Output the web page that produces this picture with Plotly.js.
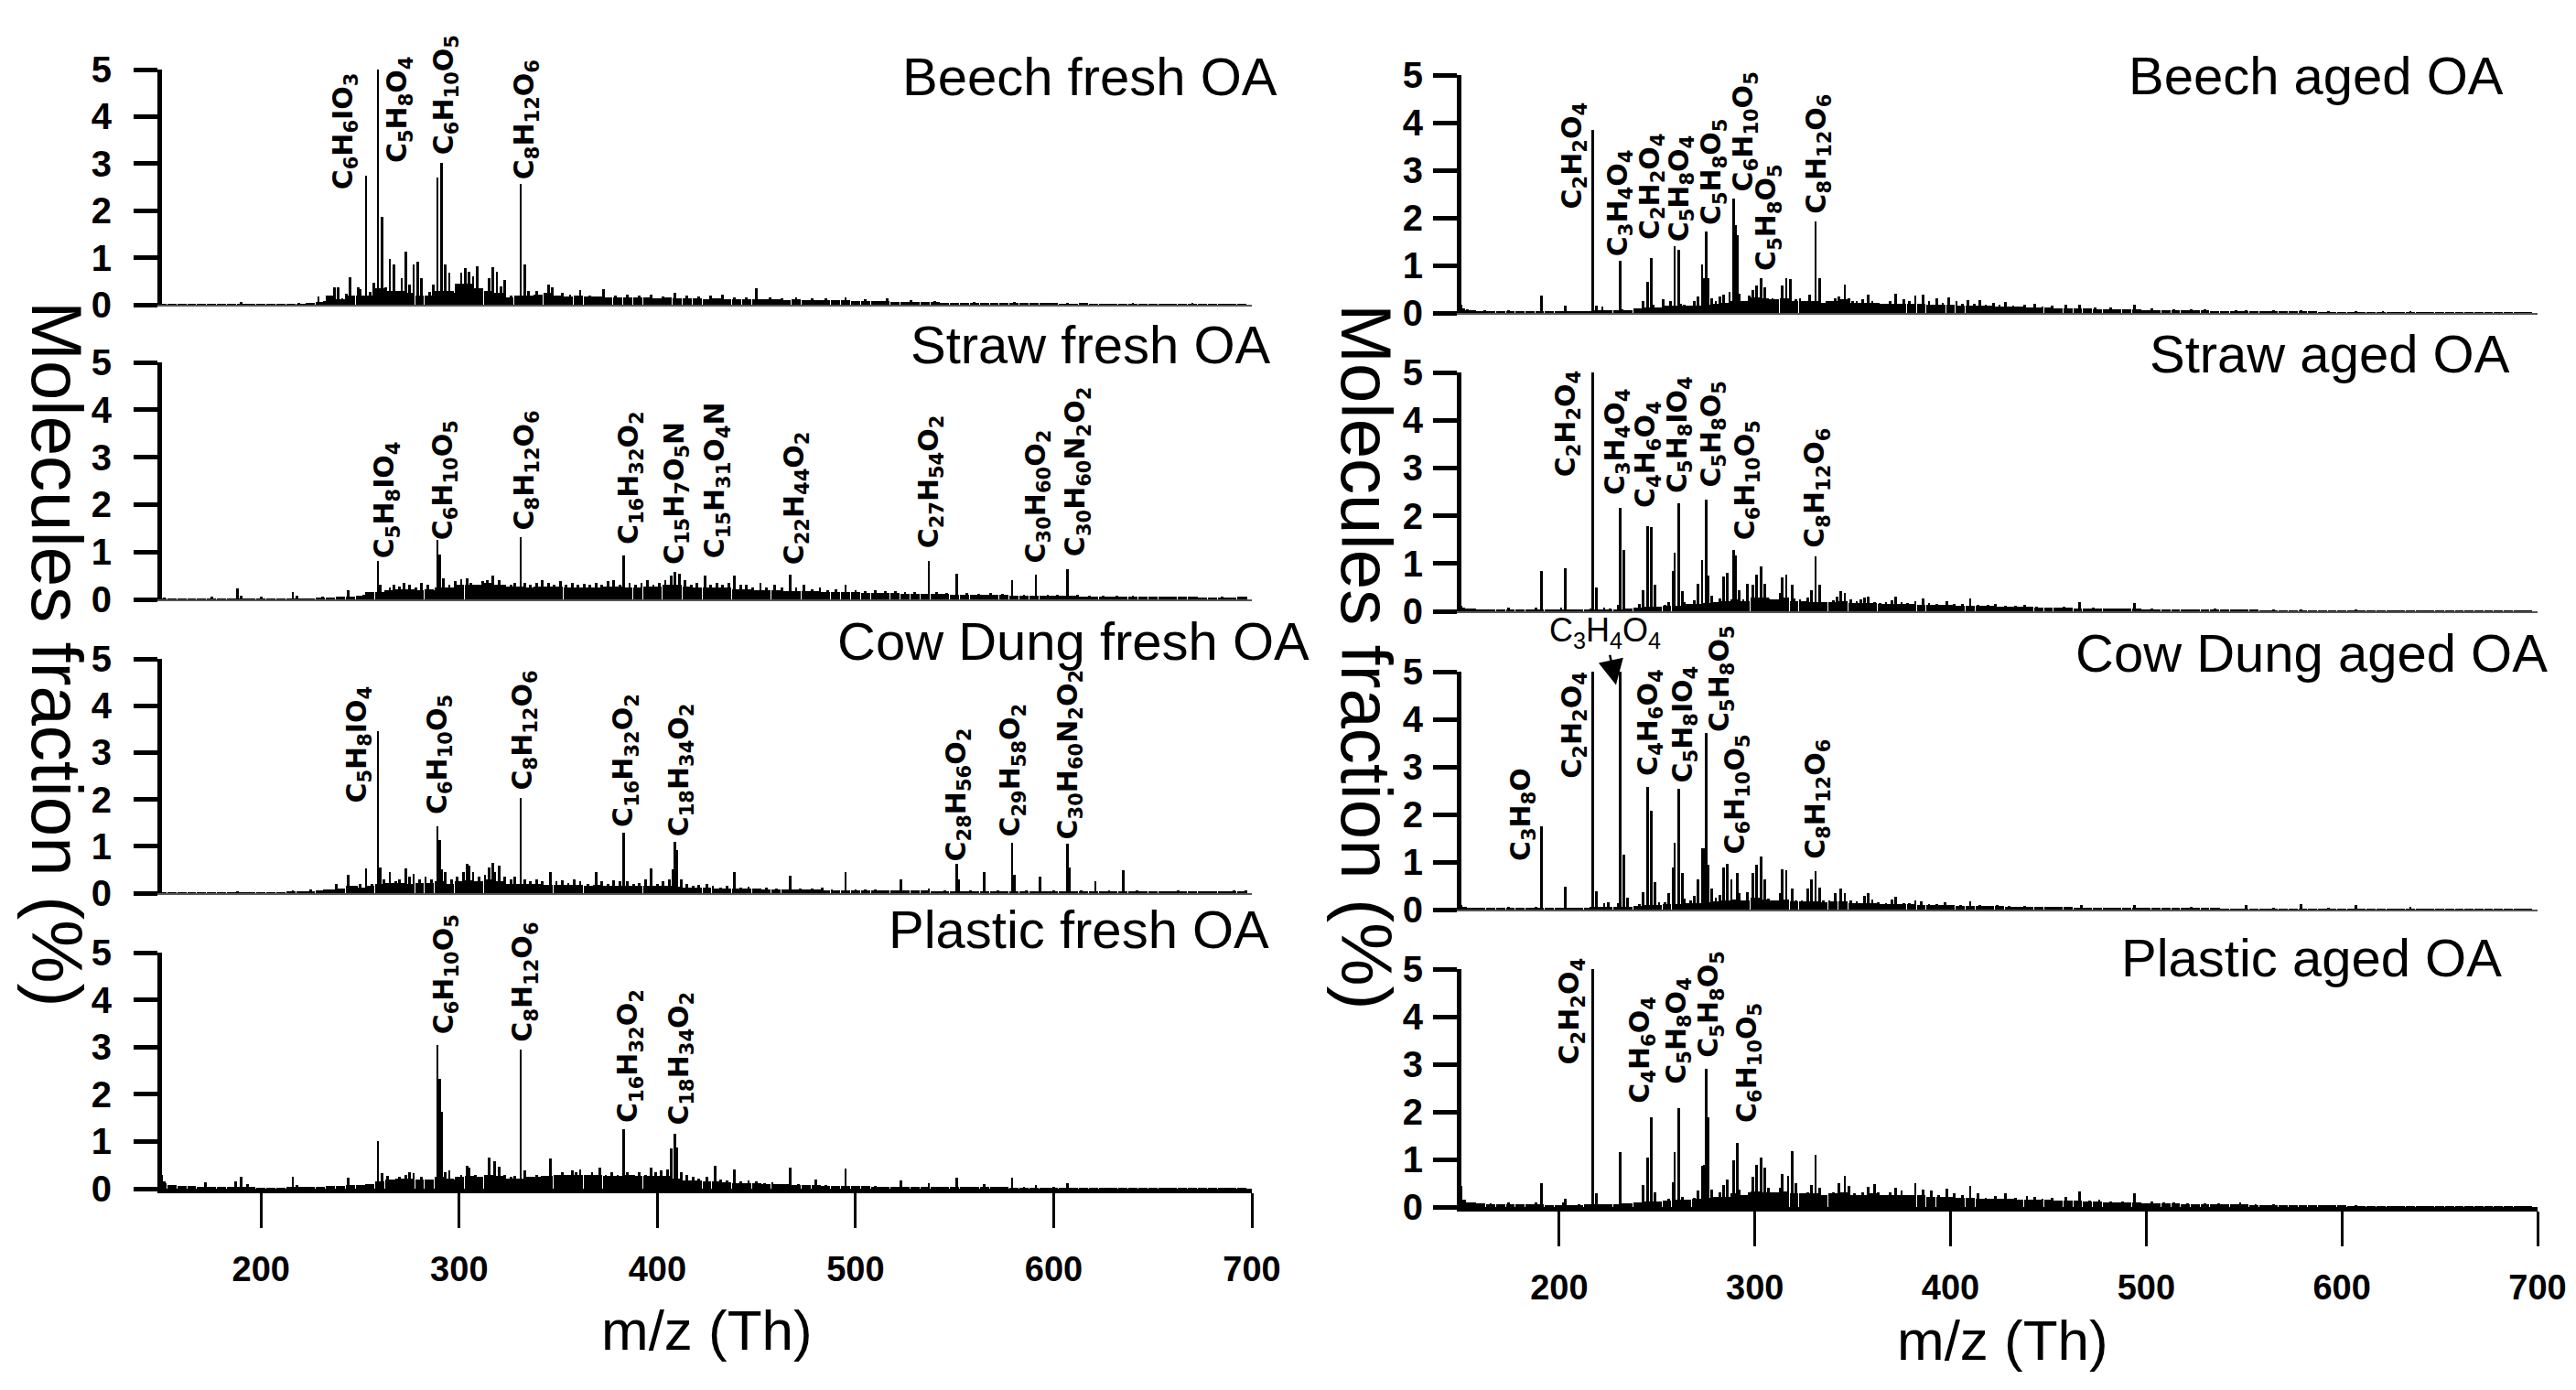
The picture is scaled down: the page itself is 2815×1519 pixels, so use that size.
<!DOCTYPE html>
<html>
<head>
<meta charset="utf-8">
<script src="https://cdn.plot.ly/plotly-3.0.1.min.js"></script>
<style>
html, body { margin: 0; padding: 0; background: #fff; }
#chart { width: 2815px; height: 1519px; }
</style>
</head>
<body>
<div id="chart"></div>
<script>
// low continuous background of each spectrum, one value per 5 Th
const baseMz = [150,155,160,165,170,175,180,185,190,195,200,205,210,215,220,225,230,235,240,245,
  250,255,260,265,270,275,280,285,290,295,300,305,310,315,320,325,330,335,340,345,
  350,355,360,365,370,375,380,385,390,395,400,405,410,415,420,425,430,435,440,445,
  450,455,460,465,470,475,480,485,490,495,500,505,510,515,520,525,530,535,540,545,
  550,555,560,565,570,575,580,585,590,595,600,605,610,615,620,625,630,635,640,645,
  650,655,660,665,670,675,680,685,690,695];

const beechFreshBase = [0.01,0.01,0.01,0.01,0.01,0.01,0.01,0.01,0.02,0.01,
  0.01,0.01,0.01,0.02,0.02,0.03,0.06,0.2,0.12,0.2,
  0.2,0.2,0.35,0.3,0.3,0.25,0.2,0.2,0.3,0.3,
  0.45,0.45,0.35,0.3,0.25,0.15,0.2,0.2,0.22,0.25,
  0.2,0.18,0.2,0.17,0.18,0.16,0.15,0.16,0.15,0.16,
  0.14,0.15,0.13,0.14,0.14,0.12,0.13,0.12,0.12,0.12,
  0.12,0.11,0.11,0.1,0.11,0.1,0.1,0.09,0.09,0.09,
  0.08,0.08,0.07,0.07,0.06,0.06,0.05,0.05,0.05,0.04,
  0.04,0.04,0.04,0.03,0.03,0.03,0.03,0.03,0.03,0.03,
  0.03,0.02,0.02,0.03,0.02,0.02,0.02,0.02,0.02,0.02,
  0.02,0.02,0.01,0.02,0.01,0.01,0.02,0.01,0.01,0.01];
const strawFreshBase = [0.02,0.01,0.01,0.01,0.01,0.01,0.01,0.01,0.01,0.01,
  0.01,0.01,0.01,0.02,0.02,0.02,0.03,0.04,0.05,0.06,
  0.08,0.15,0.15,0.2,0.22,0.22,0.2,0.22,0.25,0.25,
  0.3,0.3,0.3,0.35,0.3,0.28,0.28,0.25,0.28,0.28,
  0.28,0.25,0.25,0.25,0.25,0.28,0.28,0.25,0.25,0.28,
  0.28,0.3,0.3,0.28,0.25,0.25,0.25,0.25,0.22,0.22,
  0.2,0.2,0.2,0.18,0.18,0.18,0.17,0.16,0.16,0.15,
  0.15,0.14,0.14,0.13,0.13,0.12,0.12,0.12,0.11,0.11,
  0.1,0.1,0.1,0.09,0.09,0.09,0.08,0.08,0.08,0.08,
  0.07,0.07,0.07,0.06,0.06,0.06,0.06,0.06,0.05,0.05,
  0.05,0.05,0.05,0.05,0.05,0.04,0.04,0.04,0.04,0.05];
const cowFreshBase = [0.01,0.01,0.01,0.01,0.01,0.01,0.01,0.02,0.01,0.01,
  0.01,0.01,0.01,0.03,0.04,0.04,0.05,0.08,0.1,0.15,
  0.12,0.15,0.2,0.22,0.22,0.2,0.22,0.22,0.25,0.2,
  0.25,0.28,0.25,0.3,0.25,0.2,0.2,0.2,0.2,0.18,
  0.18,0.17,0.18,0.16,0.17,0.15,0.15,0.16,0.15,0.16,
  0.15,0.15,0.13,0.12,0.12,0.11,0.1,0.1,0.09,0.09,
  0.09,0.08,0.08,0.08,0.07,0.07,0.07,0.06,0.06,0.06,
  0.06,0.06,0.05,0.05,0.05,0.05,0.05,0.05,0.04,0.04,
  0.04,0.04,0.04,0.04,0.04,0.04,0.04,0.04,0.04,0.04,
  0.04,0.04,0.04,0.03,0.03,0.03,0.03,0.03,0.03,0.03,
  0.03,0.03,0.03,0.03,0.03,0.03,0.03,0.03,0.03,0.04];
const plasticFreshBase = [0.12,0.08,0.06,0.05,0.04,0.04,0.03,0.03,0.03,0.03,
  0.02,0.02,0.02,0.03,0.03,0.03,0.04,0.05,0.06,0.07,
  0.08,0.1,0.15,0.2,0.22,0.22,0.2,0.2,0.25,0.22,
  0.25,0.28,0.25,0.3,0.28,0.22,0.22,0.25,0.25,0.28,
  0.3,0.3,0.3,0.3,0.3,0.28,0.28,0.3,0.28,0.28,
  0.28,0.28,0.22,0.18,0.18,0.15,0.15,0.14,0.12,0.12,
  0.11,0.1,0.1,0.09,0.08,0.07,0.07,0.06,0.06,0.05,
  0.05,0.05,0.04,0.04,0.04,0.04,0.04,0.03,0.03,0.03,
  0.03,0.03,0.03,0.03,0.03,0.03,0.02,0.02,0.02,0.02,
  0.02,0.02,0.02,0.02,0.02,0.01,0.01,0.01,0.01,0.01,
  0.01,0.01,0.01,0.01,0.01,0.01,0.01,0.01,0.01,0.01];
const beechAgedBase = [0.06,0.05,0.04,0.04,0.04,0.04,0.03,0.03,0.04,0.03,
  0.04,0.03,0.03,0.04,0.06,0.05,0.06,0.06,0.1,0.12,
  0.12,0.15,0.15,0.15,0.15,0.18,0.2,0.22,0.25,0.25,
  0.32,0.3,0.28,0.3,0.25,0.25,0.25,0.22,0.25,0.28,
  0.22,0.22,0.22,0.2,0.2,0.2,0.2,0.2,0.18,0.18,
  0.17,0.16,0.16,0.15,0.15,0.14,0.14,0.13,0.12,0.12,
  0.11,0.1,0.1,0.09,0.09,0.08,0.08,0.08,0.07,0.07,
  0.06,0.06,0.06,0.05,0.05,0.05,0.05,0.04,0.04,0.04,
  0.04,0.03,0.03,0.03,0.03,0.03,0.03,0.03,0.02,0.02,
  0.02,0.02,0.02,0.02,0.02,0.02,0.02,0.02,0.01,0.01,
  0.01,0.01,0.01,0.01,0.01,0.01,0.01,0.01,0.01,0.01];
const strawAgedBase = [0.06,0.05,0.04,0.04,0.04,0.04,0.03,0.03,0.03,0.03,
  0.03,0.03,0.03,0.03,0.04,0.04,0.04,0.05,0.08,0.1,
  0.1,0.12,0.12,0.15,0.15,0.18,0.2,0.22,0.25,0.22,
  0.28,0.28,0.25,0.28,0.22,0.22,0.2,0.2,0.2,0.22,
  0.18,0.18,0.18,0.16,0.16,0.15,0.15,0.14,0.14,0.13,
  0.13,0.12,0.12,0.11,0.11,0.1,0.1,0.09,0.09,0.08,
  0.08,0.07,0.07,0.06,0.06,0.06,0.05,0.05,0.05,0.05,
  0.04,0.04,0.04,0.04,0.03,0.03,0.03,0.03,0.03,0.03,
  0.03,0.03,0.02,0.02,0.02,0.02,0.02,0.02,0.02,0.02,
  0.02,0.02,0.02,0.02,0.02,0.02,0.02,0.02,0.02,0.02,
  0.02,0.02,0.02,0.02,0.02,0.02,0.02,0.02,0.02,0.02];
const cowAgedBase = [0.05,0.03,0.03,0.03,0.03,0.03,0.03,0.03,0.03,0.03,
  0.03,0.03,0.03,0.03,0.05,0.05,0.05,0.05,0.08,0.1,
  0.1,0.12,0.12,0.14,0.14,0.16,0.18,0.2,0.22,0.2,
  0.25,0.22,0.2,0.22,0.18,0.18,0.18,0.16,0.17,0.17,
  0.14,0.14,0.14,0.12,0.12,0.11,0.11,0.1,0.1,0.09,
  0.09,0.08,0.08,0.07,0.07,0.07,0.06,0.06,0.06,0.05,
  0.05,0.05,0.05,0.04,0.04,0.04,0.04,0.04,0.04,0.03,
  0.03,0.03,0.03,0.03,0.03,0.03,0.03,0.03,0.02,0.02,
  0.02,0.02,0.02,0.02,0.02,0.02,0.02,0.02,0.02,0.02,
  0.02,0.02,0.02,0.02,0.02,0.02,0.02,0.02,0.02,0.02,
  0.02,0.02,0.02,0.02,0.01,0.01,0.01,0.01,0.01,0.01];
const plasticAgedBase = [0.15,0.1,0.08,0.06,0.06,0.05,0.05,0.05,0.05,0.04,
  0.04,0.04,0.04,0.05,0.06,0.06,0.06,0.08,0.1,0.12,
  0.12,0.14,0.15,0.15,0.18,0.2,0.22,0.22,0.28,0.25,
  0.32,0.3,0.3,0.32,0.28,0.28,0.28,0.25,0.28,0.3,
  0.25,0.25,0.28,0.25,0.25,0.25,0.25,0.25,0.22,0.22,
  0.22,0.2,0.2,0.18,0.18,0.18,0.17,0.16,0.16,0.15,
  0.15,0.14,0.14,0.13,0.12,0.11,0.1,0.1,0.1,0.09,
  0.08,0.08,0.07,0.07,0.06,0.06,0.06,0.05,0.05,0.05,
  0.05,0.04,0.04,0.04,0.04,0.03,0.03,0.03,0.03,0.03,
  0.03,0.02,0.02,0.02,0.02,0.02,0.02,0.01,0.01,0.01,
  0.01,0.01,0.01,0.01,0.01,0.01,0.01,0.01,0.01,0.01];

// individual unit-mass peaks: [m/z, molecules fraction %]
const beechFreshPeaks = [[190,0.05],[219,0.04],[229,0.17],[232,0.08],[237,0.37],[239,0.37],[241,0.14],[243,0.24],
  [245,0.59],[249,0.37],[250,0.34],[253,2.74],[255,0.27],[257,0.46],[259,5.0],[261,1.86],[263,0.37],[265,0.98],
  [267,0.85],[269,0.17],[271,0.56],[273,1.12],[275,0.43],[277,0.86],[279,0.92],[281,0.57],[285,0.27],[287,0.43],
  [289,2.71],[291,3.01],[293,0.86],[295,0.69],[298,0.25],[301,0.68],[303,0.77],[305,0.71],[307,0.61],[309,0.81],
  [311,0.25],[315,0.56],[317,0.79],[319,0.71],[321,0.39],[323,0.52],[326,0.2],[331,2.56],[333,0.86],[335,0.3],
  [339,0.3],[345,0.43],[347,0.37],[352,0.25],[356,0.22],[361,0.32],[366,0.2],[373,0.33],[379,0.2],[385,0.22],
  [391,0.2],[397,0.22],[403,0.18],[409,0.26],[415,0.2],[421,0.18],[427,0.19],[433,0.22],[439,0.16],[445,0.15],
  [450,0.35],[457,0.16],[463,0.14],[470,0.16],[478,0.14],[485,0.13],[495,0.16],[505,0.12],[516,0.13],[528,0.1],
  [540,0.08],[560,0.06],[580,0.05],[607,0.04],[640,0.04],[670,0.03]];
const strawFreshPeaks = [[151,0.03],[166,0.02],[175,0.05],[188,0.24],[190,0.08],[200,0.05],[216,0.16],[218,0.08],
  [231,0.05],[244,0.19],[252,0.1],[259,0.82],[260,0.3],[263,0.2],[265,0.25],[267,0.3],[270,0.28],[272,0.35],
  [275,0.3],[278,0.25],[281,0.35],[284,0.3],[287,0.2],[289,1.25],[290,0.95],[292,0.45],[295,0.3],[298,0.38],
  [301,0.42],[304,0.45],[306,0.35],[309,0.3],[312,0.38],[314,0.4],[317,0.5],[320,0.4],[323,0.3],[326,0.3],
  [328,0.35],[331,1.32],[333,0.35],[336,0.3],[339,0.35],[342,0.4],[345,0.35],[348,0.3],[351,0.38],[354,0.3],
  [357,0.35],[360,0.3],[363,0.32],[366,0.3],[369,0.35],[372,0.3],[375,0.38],[378,0.4],[381,0.3],[383,0.92],
  [386,0.35],[389,0.3],[392,0.35],[395,0.4],[398,0.3],[401,0.35],[404,0.4],[407,0.5],[409,0.57],[411,0.55],
  [414,0.4],[417,0.3],[420,0.35],[424,0.5],[427,0.3],[430,0.35],[433,0.3],[436,0.35],[439,0.5],[442,0.3],
  [445,0.3],[448,0.25],[452,0.35],[455,0.25],[459,0.3],[463,0.25],[467,0.52],[470,0.25],[474,0.3],[478,0.22],
  [482,0.25],[486,0.2],[490,0.22],[495,0.3],[500,0.2],[505,0.18],[510,0.2],[515,0.17],[520,0.18],[525,0.16],
  [530,0.15],[537,0.82],[541,0.15],[546,0.14],[551,0.55],[556,0.13],[562,0.12],[568,0.14],[574,0.12],[579,0.41],
  [585,0.1],[591,0.53],[597,0.1],[602,0.1],[607,0.64],[612,0.09],[618,0.08],[625,0.08],[632,0.07],[640,0.07],
  [650,0.06],[660,0.06],[672,0.05],[685,0.05],[697,0.06]];
const cowFreshPeaks = [[150,0.02],[188,0.03],[216,0.06],[225,0.08],[232,0.08],[238,0.19],[241,0.1],[244,0.4],
  [248,0.15],[250,0.2],[253,0.52],[256,0.2],[259,3.45],[260,0.55],[262,0.3],[265,0.45],[268,0.25],[270,0.3],
  [273,0.53],[275,0.35],[277,0.42],[280,0.3],[283,0.35],[286,0.3],[289,1.42],[290,1.13],[291,0.5],[293,0.45],
  [296,0.3],[299,0.35],[302,0.45],[304,0.62],[305,0.58],[307,0.45],[310,0.35],[313,0.4],[315,0.55],[317,0.65],
  [318,0.45],[320,0.58],[323,0.35],[326,0.3],[328,0.35],[331,2.04],[333,0.3],[336,0.25],[339,0.3],[342,0.25],
  [346,0.45],[349,0.25],[352,0.28],[355,0.22],[358,0.3],[361,0.25],[365,0.2],[369,0.45],[372,0.25],[375,0.2],
  [378,0.28],[381,0.25],[383,1.28],[385,0.25],[388,0.2],[391,0.22],[394,0.3],[397,0.53],[400,0.2],[403,0.25],
  [406,0.3],[408,0.5],[409,1.09],[410,0.92],[412,0.3],[415,0.2],[418,0.15],[421,0.18],[425,0.2],[428,0.15],
  [432,0.12],[435,0.15],[439,0.45],[442,0.12],[446,0.14],[450,0.1],[455,0.12],[460,0.1],[467,0.38],[472,0.1],
  [478,0.09],[483,0.12],[488,0.08],[495,0.44],[500,0.08],[505,0.07],[510,0.08],[516,0.06],[523,0.29],[530,0.06],
  [537,0.1],[545,0.06],[551,0.63],[552,0.3],[558,0.06],[565,0.45],[572,0.06],[579,1.07],[580,0.4],[586,0.05],
  [593,0.36],[600,0.06],[607,1.05],[608,0.55],[614,0.06],[621,0.26],[628,0.05],[635,0.49],[642,0.05],[650,0.04],
  [663,0.05],[677,0.04],[691,0.06],[697,0.05]];
const plasticFreshPeaks = [[150,0.3],[151,0.15],[172,0.13],[187,0.15],[190,0.25],[193,0.1],[216,0.25],[218,0.08],
  [235,0.06],[244,0.23],[252,0.06],[259,1.0],[261,0.33],[264,0.28],[267,0.2],[270,0.25],[273,0.29],[275,0.35],
  [277,0.32],[281,0.25],[285,0.2],[289,3.04],[290,2.33],[291,1.63],[293,0.35],[295,0.39],[298,0.2],[301,0.3],
  [304,0.49],[305,0.45],[308,0.3],[311,0.25],[313,0.3],[315,0.65],[318,0.59],[320,0.46],[323,0.3],[326,0.25],
  [328,0.28],[331,2.95],[333,0.39],[336,0.25],[339,0.3],[342,0.28],[346,0.64],[349,0.3],[352,0.35],[355,0.3],
  [357,0.39],[359,0.35],[361,0.41],[364,0.3],[367,0.35],[371,0.44],[374,0.3],[377,0.35],[380,0.3],[383,1.26],
  [385,0.35],[388,0.3],[391,0.35],[394,0.3],[397,0.45],[399,0.35],[402,0.38],[405,0.4],[407,0.86],[409,1.16],
  [410,0.88],[412,0.35],[415,0.3],[418,0.25],[421,0.22],[425,0.25],[429,0.49],[432,0.2],[435,0.18],[439,0.4],
  [442,0.15],[446,0.18],[450,0.15],[454,0.12],[458,0.14],[462,0.1],[467,0.45],[471,0.1],[475,0.08],[480,0.2],
  [485,0.07],[490,0.06],[495,0.42],[500,0.06],[510,0.05],[523,0.18],[530,0.04],[537,0.11],[545,0.04],[551,0.24],
  [558,0.03],[565,0.1],[572,0.03],[579,0.23],[585,0.03],[591,0.08],[600,0.03],[607,0.11],[620,0.02],[640,0.02],
  [660,0.02],[680,0.02]];
const beechAgedPeaks = [[150,0.18],[151,0.1],[153,0.08],[162,0.05],[174,0.065],[191,0.36],[196,0.04],[203,0.15],
  [212,0.04],[217,3.84],[219,0.15],[222,0.13],[226,0.05],[231,1.1],[232,0.08],[236,0.05],[240,0.1],[243,0.25],
  [245,0.65],[247,1.15],[248,0.18],[251,0.1],[253,0.28],[257,0.25],[259,1.4],[261,1.32],[262,0.2],[264,0.18],
  [267,0.15],[269,0.25],[271,0.35],[273,1.01],[274,0.73],[275,1.71],[276,0.73],[278,0.3],[280,0.25],[282,0.34],
  [284,0.39],[287,0.44],[289,2.41],[290,1.84],[291,1.63],[292,0.4],[294,0.25],[297,0.36],[299,0.49],[301,0.57],
  [303,0.73],[305,0.54],[307,0.28],[309,0.3],[311,0.25],[314,0.57],[316,0.73],[318,0.71],[321,0.28],[323,0.3],
  [326,0.25],[328,0.38],[331,1.92],[333,0.73],[335,0.21],[337,0.25],[339,0.21],[341,0.3],[343,0.34],[346,0.6],
  [348,0.31],[350,0.25],[352,0.25],[355,0.28],[358,0.38],[360,0.25],[363,0.22],[366,0.18],[369,0.25],[372,0.41],
  [376,0.28],[379,0.25],[382,0.36],[386,0.38],[389,0.25],[393,0.3],[396,0.22],[399,0.32],[403,0.25],[406,0.2],
  [409,0.26],[412,0.2],[415,0.26],[418,0.18],[422,0.21],[425,0.17],[428,0.23],[432,0.15],[438,0.18],[443,0.19],
  [447,0.14],[452,0.15],[459,0.17],[466,0.18],[474,0.12],[482,0.12],[494,0.18],[503,0.1],[514,0.08],[523,0.08],
  [530,0.07],[546,0.065],[551,0.06],[565,0.05],[579,0.05],[593,0.04],[607,0.04],[621,0.03],[635,0.03],[650,0.02],
  [665,0.02],[680,0.02],[695,0.02]];
const strawAgedPeaks = [[150,0.12],[151,0.08],[153,0.05],[163,0.04],[174,0.08],[188,0.08],[191,0.84],[198,0.04],
  [201,0.08],[203,0.9],[210,0.04],[216,0.05],[217,5.0],[219,0.5],[223,0.08],[226,0.05],[230,0.13],[231,2.16],
  [233,1.28],[236,0.06],[241,0.16],[243,0.44],[245,1.79],[247,1.77],[249,0.55],[251,0.1],[254,0.13],[256,0.19],
  [258,0.84],[259,1.23],[261,2.26],[263,0.42],[264,0.19],[267,0.15],[269,0.23],[271,0.57],[273,1.08],[275,2.33],
  [276,0.74],[278,0.32],[280,0.2],[282,0.26],[284,0.72],[286,0.81],[289,1.29],[290,1.17],[292,0.44],[294,0.25],
  [296,0.57],[299,0.55],[301,0.77],[303,0.94],[305,0.57],[307,0.26],[310,0.25],[313,0.39],[314,0.71],[316,0.76],
  [319,0.55],[320,0.26],[323,0.25],[327,0.29],[329,0.45],[331,1.14],[333,0.55],[335,0.19],[338,0.2],[340,0.23],
  [342,0.3],[344,0.42],[346,0.39],[349,0.25],[352,0.22],[354,0.25],[356,0.29],[358,0.3],[361,0.2],[364,0.18],
  [367,0.2],[370,0.23],[372,0.3],[375,0.2],[378,0.18],[382,0.21],[386,0.26],[389,0.18],[393,0.16],[398,0.21],
  [402,0.16],[406,0.15],[410,0.26],[414,0.14],[419,0.13],[423,0.16],[428,0.12],[433,0.12],[438,0.14],[444,0.1],
  [451,0.08],[458,0.09],[466,0.19],[473,0.07],[480,0.065],[487,0.06],[494,0.17],[503,0.05],[512,0.04],[522,0.03],
  [535,0.05],[551,0.03],[565,0.03],[579,0.03],[607,0.03],[640,0.02],[670,0.02]];
const cowAgedPeaks = [[150,0.1],[152,0.05],[160,0.04],[174,0.05],[188,0.05],[191,1.75],[203,0.49],[210,0.04],
  [216,0.05],[217,5.0],[219,0.39],[223,0.13],[225,0.15],[230,0.13],[231,5.0],[233,1.15],[235,0.25],[241,0.12],
  [243,0.37],[245,2.58],[247,2.08],[249,0.57],[251,0.15],[254,0.15],[256,0.34],[258,0.89],[259,1.4],[261,2.53],
  [263,0.76],[264,0.24],[267,0.2],[269,0.28],[271,0.63],[273,1.28],[274,1.28],[275,3.72],[276,0.95],[278,0.44],
  [280,0.25],[282,0.31],[284,0.89],[286,0.97],[288,0.63],[291,0.77],[292,0.34],[294,0.2],[296,0.37],[299,0.76],
  [301,0.95],[303,1.11],[305,0.63],[307,0.24],[310,0.2],[313,0.34],[314,0.84],[316,0.82],[319,0.44],[321,0.2],
  [324,0.2],[327,0.44],[329,0.63],[331,0.8],[333,0.47],[335,0.2],[338,0.2],[341,0.34],[344,0.44],[346,0.34],
  [349,0.2],[352,0.17],[356,0.28],[358,0.34],[360,0.21],[363,0.15],[367,0.14],[370,0.21],[372,0.26],[376,0.14],
  [379,0.13],[382,0.19],[385,0.18],[389,0.12],[393,0.11],[397,0.15],[401,0.1],[405,0.1],[410,0.18],[415,0.09],
  [420,0.08],[424,0.1],[430,0.07],[438,0.08],[445,0.06],[452,0.05],[460,0.05],[467,0.1],[475,0.04],[485,0.04],
  [494,0.1],[505,0.03],[523,0.06],[537,0.03],[551,0.09],[565,0.03],[579,0.12],[593,0.03],[607,0.1],[621,0.02],
  [635,0.06],[660,0.02],[690,0.02]];
const plasticAgedPeaks = [[150,0.44],[151,0.15],[153,0.1],[158,0.08],[165,0.07],[170,0.05],[174,0.1],[188,0.1],
  [191,0.5],[202,0.1],[203,0.18],[210,0.05],[217,5.0],[219,0.28],[223,0.06],[226,0.05],[231,1.15],[232,0.08],
  [236,0.05],[241,0.1],[243,0.47],[245,1.03],[247,1.89],[249,0.31],[252,0.1],[256,0.18],[258,0.52],[259,1.16],
  [261,2.08],[263,0.21],[266,0.12],[269,0.2],[271,0.34],[273,0.87],[274,0.89],[275,2.9],[276,1.89],[278,0.37],
  [280,0.2],[282,0.31],[284,0.47],[286,0.58],[289,0.99],[291,1.34],[292,0.37],[294,0.2],[297,0.31],[299,0.63],
  [301,0.89],[303,1.04],[305,0.82],[307,0.41],[310,0.25],[313,0.41],[314,0.7],[317,0.66],[319,1.18],[321,0.5],
  [324,0.25],[327,0.31],[329,0.47],[331,1.1],[333,0.41],[336,0.25],[338,0.25],[340,0.31],[343,0.5],[346,0.65],
  [348,0.44],[351,0.28],[355,0.31],[358,0.42],[361,0.49],[363,0.31],[366,0.25],[369,0.31],[372,0.41],[375,0.34],
  [378,0.25],[382,0.5],[386,0.37],[390,0.34],[394,0.25],[398,0.39],[402,0.28],[406,0.25],[410,0.45],[414,0.28],
  [418,0.2],[423,0.24],[428,0.28],[433,0.2],[439,0.24],[443,0.22],[447,0.17],[452,0.19],[459,0.21],[466,0.33],
  [471,0.14],[476,0.15],[482,0.12],[488,0.11],[494,0.28],[503,0.12],[509,0.09],[514,0.1],[521,0.08],[530,0.08],
  [537,0.07],[548,0.1],[556,0.05],[565,0.05],[579,0.04],[593,0.03],[607,0.03],[621,0.02],[640,0.02],[660,0.01]];

// peak labels: [formula, m/z of label centre, fraction at label foot]
const beechFreshLabels = [['C6H6IO3',242,2.43],['C5H8O4',269.5,3.0],['C6H10O5',293,3.17],['C8H12O6',333.3,2.65]];
const strawFreshLabels = [['C5H8IO4',263,0.84],['C6H10O5',292.5,1.23],['C8H12O6',333.6,1.44],['C16H32O2',386.5,1.14],
  ['C15H7O5N',409,0.71],['C15H31O4N',430,0.84],['C22H44O2',469.6,0.71],['C27H54O2',537.8,1.05],
  ['C30H60O2',591.6,0.75],['C30H60N2O2',611.9,0.88]];
const cowFreshLabels = [['C5H8IO4',249,1.91],['C6H10O5',289.5,1.65],['C8H12O6',332.7,2.18],['C16H32O2',383.7,1.39],
  ['C18H34O2',411.7,1.18],['C28H56O2',551.4,0.66],['C29H58O2',579,1.18],['C30H60N2O2',608,1.13]];
const plasticFreshLabels = [['C6H10O5',292.7,3.24],['C8H12O6',332.9,3.08],['C16H32O2',385.8,1.37],['C18H34O2',411.7,1.32]];
const beechAgedLabels = [['C2H2O4',207.2,2.16],['C3H4O4',230.7,1.17],['C2H2O4',247.1,1.52],['C5H8O4',261.9,1.47],
  ['C5H8O5',278.7,1.82],['C6H10O5',294.5,2.54],['C5H8O5',306.5,0.87],['C8H12O6',332.3,2.07]];
const strawAgedLabels = [['C2H2O4',204,2.79],['C3H4O4',229.2,2.41],['C4H6O4',244.8,2.15],['C5H8IO4',260.8,2.45],
  ['C5H8O5',278.5,2.58],['C6H10O5',295.7,1.47],['C8H12O6',331.5,1.3]];
const cowAgedLabels = [['C3H8O',180.9,1.0],['C2H2O4',206.9,2.74],['C4H6O4',246.1,2.79],['C5H8IO4',264,2.64],
  ['C5H8O5',282.3,3.72],['C6H10O5',290.7,1.15],['C8H12O6',331.9,1.05]];
const plasticAgedLabels = [['C2H2O4',206.1,2.98],['C4H6O4',241.9,2.16],['C5H8O4',260.8,2.57],['C5H8O5',277.2,3.13],
  ['C6H10O5',296.6,1.75]];

const xTicks = [200, 300, 400, 500, 600, 700];
const yTicks = [0, 1, 2, 3, 4, 5];

const panels = [
  {title: 'Beech fresh OA', base: beechFreshBase, peaks: beechFreshPeaks, labels: beechFreshLabels},
  {title: 'Straw fresh OA', base: strawFreshBase, peaks: strawFreshPeaks, labels: strawFreshLabels},
  {title: 'Cow Dung fresh OA', base: cowFreshBase, peaks: cowFreshPeaks, labels: cowFreshLabels},
  {title: 'Plastic fresh OA', base: plasticFreshBase, peaks: plasticFreshPeaks, labels: plasticFreshLabels},
  {title: 'Beech aged OA', base: beechAgedBase, peaks: beechAgedPeaks, labels: beechAgedLabels},
  {title: 'Straw aged OA', base: strawAgedBase, peaks: strawAgedPeaks, labels: strawAgedLabels},
  {title: 'Cow Dung aged OA', base: cowAgedBase, peaks: cowAgedPeaks, labels: cowAgedLabels},
  {title: 'Plastic aged OA', base: plasticAgedBase, peaks: plasticAgedPeaks, labels: plasticAgedLabels}
];

// page geometry in pixels
const W = 2815, H = 1519;
const boxes = [
  {x: [177, 1368], y: [76, 333], t: [1398, 84]},
  {x: [177, 1368], y: [396, 655], t: [1391, 376]},
  {x: [177, 1368], y: [720, 976], t: [1433, 700]},
  {x: [177, 1368], y: [1041, 1299], t: [1389, 1015]},
  {x: [1597, 2773], y: [82, 342], t: [2738, 83]},
  {x: [1597, 2773], y: [407, 668], t: [2745, 386]},
  {x: [1597, 2773], y: [734, 994], t: [2786, 713]},
  {x: [1597, 2773], y: [1059, 1319], t: [2736, 1046]}
];
const px = v => v / W;
const py = v => 1 - v / H;

const ARIAL = '"Liberation Sans", Arial, sans-serif';
const WIDE = '"DejaVu Sans", Verdana, sans-serif';

function chem(f) {
  return f.replace(/(\d+)/g, '<sub>$1</sub>');
}

const data = [];
const annotations = [];
const layout = {
  width: W,
  height: H,
  margin: {l: 0, r: 0, t: 0, b: 0},
  paper_bgcolor: '#fff',
  plot_bgcolor: 'rgba(0,0,0,0)',
  showlegend: false,
  barmode: 'overlay',
  bargap: 0
};

panels.forEach((p, i) => {
  const n = i + 1;
  const b = boxes[i];
  const xa = 'x' + n, ya = 'y' + n;
  const bottom = (n === 4 || n === 8);
  const right = n > 4;

  data.push({
    type: 'bar', x: baseMz, y: p.base, width: 4.6,
    marker: {color: '#000', line: {width: 0}},
    xaxis: xa, yaxis: ya, hoverinfo: 'skip'
  });
  data.push({
    type: 'bar', x: p.peaks.map(d => d[0]), y: p.peaks.map(d => d[1]), width: 1.3,
    marker: {color: '#000', line: {width: 0}},
    xaxis: xa, yaxis: ya, hoverinfo: 'skip'
  });

  layout['xaxis' + (n === 1 ? '' : n)] = {
    domain: [px(b.x[0]), px(b.x[1])],
    anchor: ya,
    range: [150, 700],
    showgrid: false,
    zeroline: false,
    showline: true,
    linecolor: bottom ? '#000' : '#555',
    linewidth: bottom ? 5 : 2,
    ticks: bottom ? 'outside' : '',
    ticklen: 38,
    tickwidth: 3,
    tickcolor: '#000',
    tickvals: xTicks,
    showticklabels: bottom,
    ticklabelstandoff: 12,
    tickfont: {family: ARIAL, size: 38, color: '#000', weight: 'bold'}
  };
  layout['yaxis' + (n === 1 ? '' : n)] = {
    domain: [py(b.y[1]), py(b.y[0])],
    anchor: xa,
    range: [0, 5],
    showgrid: false,
    zeroline: false,
    showline: true,
    linecolor: '#000',
    linewidth: 5,
    ticks: 'outside',
    ticklen: 26,
    tickwidth: 5,
    tickcolor: '#000',
    tickvals: yTicks,
    ticklabelstandoff: right ? 3 : 16,
    tickfont: {family: ARIAL, size: 40, color: '#000', weight: 'bold'}
  };

  annotations.push({
    xref: 'paper', yref: 'paper', x: px(b.t[0]), y: py(b.t[1]),
    xanchor: 'right', yanchor: 'middle', showarrow: false,
    text: p.title, font: {family: ARIAL, size: 58, color: '#000'}
  });

  p.labels.forEach(l => {
    annotations.push({
      xref: xa, yref: ya, x: l[1], y: l[2],
      xanchor: 'center', yanchor: 'bottom', textangle: -90, showarrow: false,
      borderpad: 0,
      text: chem(l[0]), font: {family: WIDE, size: 30, color: '#000', weight: 'bold'}
    });
  });
});

// C3H4O4 callout with arrow in the cow dung aged panel
annotations.push({
  xref: 'x7', yref: 'y7', x: 229, y: 4.72, axref: 'x7', ayref: 'y7', ax: 223.5, ay: 5.82,
  text: chem('C3H4O4'), showarrow: true, arrowhead: 2, arrowsize: 2.2, arrowwidth: 2.5,
  arrowcolor: '#000', standoff: 0, startstandoff: 0,
  font: {family: ARIAL, size: 36, color: '#000'}
});

// axis titles
[[62, 715], [1493, 718]].forEach(c => {
  annotations.push({
    xref: 'paper', yref: 'paper', x: px(c[0]), y: py(c[1]),
    xanchor: 'center', yanchor: 'middle', textangle: 90, showarrow: false,
    text: 'Molecules fraction (%)', font: {family: ARIAL, size: 78, color: '#000'}
  });
});
[[772, 1453], [2188, 1464]].forEach(c => {
  annotations.push({
    xref: 'paper', yref: 'paper', x: px(c[0]), y: py(c[1]),
    xanchor: 'center', yanchor: 'middle', showarrow: false,
    text: 'm/z (Th)', font: {family: ARIAL, size: 62, color: '#000'}
  });
});

layout.annotations = annotations;

Plotly.newPlot('chart', data, layout, {displayModeBar: false, staticPlot: true});
</script>
</body>
</html>
